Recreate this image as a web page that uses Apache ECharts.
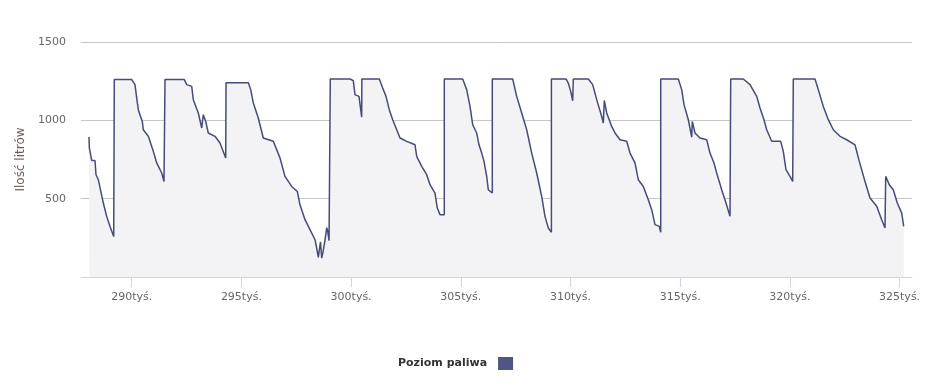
<!DOCTYPE html>
<html>
<head>
<meta charset="utf-8">
<script src="https://cdn.jsdelivr.net/npm/echarts@6/dist/echarts.min.js"></script>
<style>
html,body{margin:0;padding:0;background:#fff;}
#chart{width:933px;height:390px;}
</style>
</head>
<body>
<div id="chart"></div>
<script>
// Odometer readings (km) and fuel levels (litres)
var kmValues = [
288054, 288070, 288177, 288327, 288373, 288478, 288706, 288860, 289011, 289180,
289207, 290000, 290150, 290228, 290301, 290483, 290529, 290757, 290985, 291140, 291367, 291472,
291518, 292398, 292507, 292735, 292808, 293036, 293191, 293264, 293373, 293491, 293797, 294025, 294285,
294300, 295315, 295424, 295543, 295770, 295998, 296454, 296609, 296760, 296987, 297293, 297548, 297671, 297899, 298127, 298355, 298432, 298505, 298570, 298605, 298660, 298720, 298780, 298810, 298890, 298925, 298995, 299052,
299052, 299950, 300100, 300178, 300360, 300438, 300483,
300490, 301286, 301441, 301591, 301741, 301896, 302079, 302229, 302535, 302913, 302990, 303218, 303446, 303597, 303824, 303929, 304052, 304248,
304248, 305087, 305269, 305420, 305543, 305725, 305830, 305953, 306058, 306181, 306254, 306436,
306436, 307366, 307548, 307776, 308004, 308232, 308460, 308688, 308838, 308989, 309130,
309130, 309795, 309900, 310010, 310101,
310128, 310812, 311012, 311195, 311423, 311495, 311541, 311651, 311878, 312029, 312257, 312562, 312713, 312940, 313091, 313319, 313547, 313702, 313852, 314048, 314112,
314112, 314914, 315069, 315174, 315370, 315525, 315552, 315675, 315903, 316209, 316359, 316541, 316664, 316892, 317088, 317271,
317302, 317877, 318182, 318488, 318638, 318820, 318943, 319171, 319581, 319700, 319823, 320005, 320128,
320156, 321145, 321295, 321523, 321751, 321979, 322284, 322590, 322968, 323164, 323424, 323652, 323957, 324185, 324335,
324367, 324531, 324714, 324896, 325097, 325188
];
var fuelLevels = [
894, 823, 744, 744, 653, 621, 472, 387, 323, 259,
1260, 1260, 1228, 1143, 1068, 993, 940, 898, 802, 728, 664, 610,
1260, 1260, 1228, 1217, 1132, 1047, 951, 1036, 993, 919, 898, 855, 760,
1240, 1240, 1196, 1111, 1015, 887, 866, 813, 760, 642, 578, 546, 461, 366, 302, 238, 185, 125, 118, 225, 120, 160, 150, 235, 315, 300, 232, 232,
1264, 1264, 1253, 1164, 1153, 1068, 1021,
1264, 1264, 1206, 1153, 1068, 1004, 940, 887, 866, 844, 770, 706, 653, 589, 536, 440, 398, 398,
1264, 1264, 1196, 1089, 972, 919, 844, 791, 738, 642, 557, 536,
1264, 1264, 1153, 1047, 940, 791, 664, 514, 387, 313, 285,
1264, 1264, 1238, 1185, 1125,
1264, 1264, 1228, 1132, 1025, 983, 1127, 1047, 961, 919, 876, 866, 791, 728, 621, 578, 493, 430, 334, 323, 285,
1264, 1264, 1196, 1100, 1004, 893, 993, 919, 887, 876, 791, 728, 664, 557, 472, 387,
1264, 1264, 1228, 1153, 1079, 1004, 940, 866, 866, 802, 685, 642, 610,
1264, 1264, 1196, 1089, 1004, 940, 898, 876, 844, 738, 610, 504, 451, 366, 313,
642, 589, 557, 472, 408, 323
];
var xTickValues = [290000, 295000, 300000, 305000, 310000, 315000, 320000, 325000];
var seriesName = 'Poziom paliwa';
var yAxisTitle = 'Ilość litrów';

var data = kmValues.map(function (k, i) { return [k, fuelLevels[i]]; });

var chart = echarts.init(document.getElementById('chart'), null, {renderer: 'canvas'});
var font = 'DejaVu Sans';
chart.setOption({
  animation: false,
  backgroundColor: '#ffffff',
  grid: {left: 81, right: 21, top: 42, bottom: 113, containLabel: false},
  legend: {
    data: [{name: seriesName, icon: 'rect'}],
    top: 352,
    left: 393,
    align: 'right',
    itemWidth: 15,
    itemHeight: 13,
    textStyle: {fontFamily: font, fontSize: 11, fontWeight: 'bold', color: '#333333', padding: [0, 6, 0, 0]}
  },
  xAxis: {
    type: 'value',
    min: 287689,
    max: 325566,
    axisLine: {show: true, lineStyle: {color: '#ccd6eb', width: 1}},
    axisTick: {show: true, length: 10, lineStyle: {color: '#ccd6eb'}, customValues: xTickValues},
    axisLabel: {
      customValues: xTickValues,
      margin: 15,
      fontFamily: font, fontSize: 11, color: '#666666',
      formatter: function (v) { return (v / 1000) + 'tyś.'; }
    },
    splitLine: {show: false}
  },
  yAxis: {
    type: 'value',
    min: 0,
    max: 1500,
    interval: 500,
    name: yAxisTitle,
    nameLocation: 'middle',
    nameGap: 44,
    nameTextStyle: {fontFamily: font, fontSize: 12, color: '#735656'},
    axisLine: {show: false},
    axisTick: {show: false},
    axisLabel: {
      margin: 15, fontFamily: font, fontSize: 11, color: '#666666',
      formatter: function (v) { return v === 0 ? '' : String(v); }
    },
    splitLine: {show: true, lineStyle: {color: '#c6c6c6', width: 1}}
  },
  series: [{
    name: seriesName,
    type: 'line',
    data: data,
    symbol: 'none',
    color: '#4f5584',
    lineStyle: {color: '#454b7b', width: 1.5},
    areaStyle: {color: '#f3f3f6', opacity: 1},
    z: 3
  }]
});
</script>
</body>
</html>
